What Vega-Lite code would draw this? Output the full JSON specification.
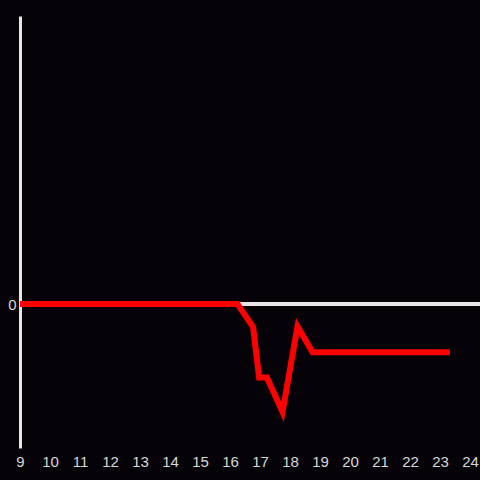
{
  "$schema": "https://vega.github.io/schema/vega-lite/v6.json",
  "autosize": "none",
  "width": 460,
  "height": 432,
  "padding": {"left": 20, "top": 16, "right": 0, "bottom": 32},
  "background": "#050307",
  "config": {
    "view": {"stroke": null},
    "axis": {"labelFont": "Liberation Sans", "labelFontSize": 15, "labelColor": "#d8d8d8", "grid": false, "ticks": false, "title": null}
  },
  "data": {
    "values": [
      {"t": 9, "v": 0},
      {"t": 16.25, "v": 0},
      {"t": 16.77, "v": -0.16},
      {"t": 16.97, "v": -0.51},
      {"t": 17.23, "v": -0.51},
      {"t": 17.75, "v": -0.75},
      {"t": 18.25, "v": -0.155},
      {"t": 18.75, "v": -0.335},
      {"t": 23.33, "v": -0.335}
    ]
  },
  "layer": [
    {
      "mark": {"type": "rule", "color": "#e6e6e6", "strokeWidth": 3},
      "encoding": {"y": {"datum": 0}}
    },
    {
      "mark": {"type": "line", "color": "#ff0000", "strokeWidth": 6, "strokeJoin": "miter", "strokeCap": "butt"},
      "encoding": {
        "x": {
          "field": "t", "type": "quantitative",
          "scale": {"domain": [9, 24.333], "nice": false, "zero": false},
          "axis": {"values": [9,10,11,12,13,14,15,16,17,18,19,20,21,22,23,24], "format": "d", "domain": false, "labelPadding": 6, "labelFlush": false}
        },
        "y": {
          "field": "v", "type": "quantitative",
          "scale": {"domain": [-1, 2], "nice": false},
          "axis": {"values": [0], "format": "d", "domain": true, "domainColor": "#e6e6e6", "domainWidth": 3, "labelPadding": 4}
        }
      }
    }
  ]
}
